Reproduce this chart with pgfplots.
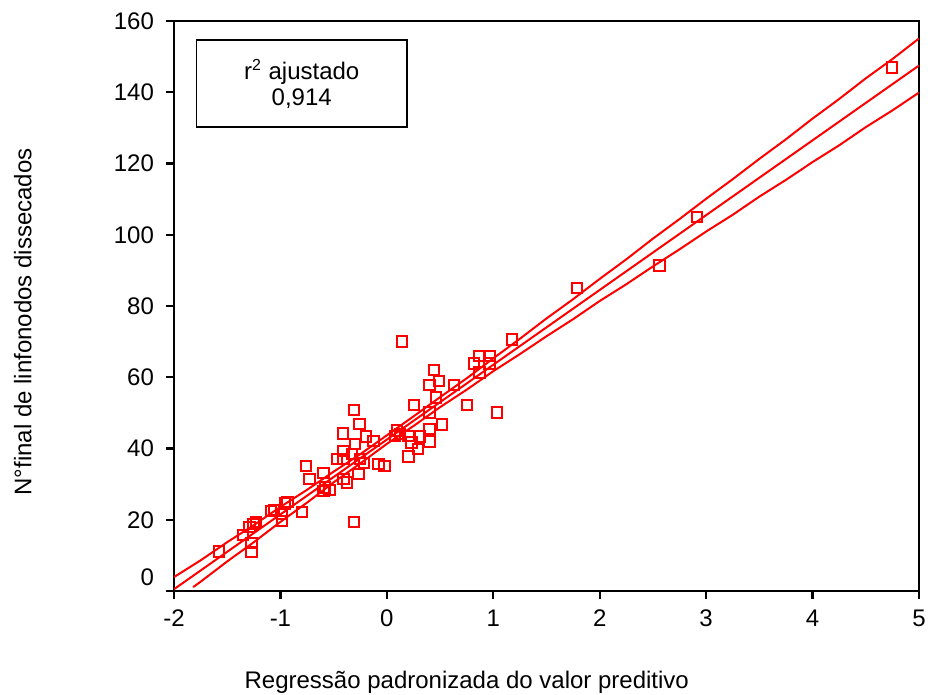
\documentclass[border=0pt]{standalone}
\usepackage{fontspec}
\setmainfont{Liberation Sans}
\usepackage{pgfplots}
\pgfplotsset{compat=1.18}
\definecolor{spssred}{RGB}{255,0,0}

\begin{document}
\begin{tikzpicture}
\begin{axis}[
    scale only axis,
    width=372.5pt, height=285pt,
    xmin=-2, xmax=5, ymin=0, ymax=160,
    xtick={-2,-1,0,1,2,3,4,5},
    xticklabels={-2,-1,0,1,2,3,4,5},
    ytick={20,40,60,80,100,120,140,160},
    yticklabels={20,40,60,80,100,120,140,160},
    extra y ticks={0}, extra y tick labels={0},
    extra y tick style={yticklabel style={yshift=7pt}},
    yticklabel style={xshift=-2.5pt},
    xticklabel style={yshift=-2pt},
    xtick pos=lower, ytick pos=left,
    tick align=outside, major tick length=4pt,
    tick style={black, line width=1.2pt},
    axis line style={black, line width=1.2pt},
    font=\fontsize{12}{14}\selectfont,
    xlabel={Regressão padronizada do valor preditivo},
    ylabel={N°final de linfonodos dissecados},
    xlabel style={at={(axis description cs:0.393,-0.161)}, anchor=center},
    ylabel style={at={(axis description cs:-0.203,0.472)}, anchor=center},
]
% observed points
\addplot[only marks, mark=square, mark size=2.6pt, spssred, line width=1pt] coordinates {
 (4.745,147.0) (2.913,105.0) (2.561,91.4) (1.785,85.1) (1.177,70.6)
 (0.140,70.0) (0.870,66.0) (0.963,66.0) (0.820,63.9) (0.963,63.9)
 (0.870,61.3) (0.441,62.0) (0.491,59.0) (0.400,57.8) (0.632,57.8)
 (0.462,54.3) (0.253,52.2) (0.751,52.2) (1.033,50.1) (0.400,50.1)
 (0.400,45.5) (0.516,46.7) (0.400,42.0) (0.093,45.0) (0.124,44.0)
 (0.077,43.5) (0.202,43.5) (0.312,43.4) (0.233,41.7) (0.290,39.8)
 (0.202,37.8) (-0.080,35.6) (-0.023,35.1) (-0.308,50.8) (-0.258,46.8)
 (-0.414,44.2) (-0.195,43.4) (-0.299,41.2) (-0.127,42.1) (-0.409,39.3)
 (-0.409,37.0) (-0.252,37.0) (-0.214,35.9) (-0.471,37.0) (-0.268,32.8)
 (-0.377,30.5) (-0.409,31.5) (-0.330,38.5) (-0.759,35.1) (-0.728,31.4)
 (-0.597,33.1) (-0.581,29.1) (-0.540,28.4) (-0.597,28.1) (-0.308,19.3)
 (-0.800,22.1) (-0.957,24.6) (-0.935,25.0) (-0.988,21.6) (-0.988,19.7)
 (-1.091,22.5) (-1.060,22.8) (-1.228,19.4) (-1.254,18.8) (-1.292,17.9)
 (-1.349,15.8) (-1.270,13.5) (-1.270,10.9) (-1.577,11.1)
};
% fitted line
\addplot[spssred, line width=1pt] coordinates {(-2,0.5) (5,147.5)};
% upper confidence band
\addplot[spssred, line width=1pt] coordinates {
 (-2,3.9) (-1.75,8.6) (-1.5,13.7) (-1.25,18.5) (-1,23.6) (-0.75,28.4)
 (-0.5,33.5) (-0.25,38.4) (0,43.7) (0.25,49.0) (0.5,54.4) (0.75,59.7)
 (1,65.3) (1.25,70.8) (1.5,76.5) (1.75,81.9) (2,87.6) (2.25,93.1)
 (2.5,98.9) (2.75,104.4) (3,110.1) (3.25,115.6) (3.5,121.3) (3.75,126.8)
 (4,132.6) (4.25,138.1) (4.5,143.9) (4.75,149.3) (5,155.1)
};
% lower confidence band
\addplot[spssred, line width=1pt] coordinates {
 (-1.82,1.1) (-1.75,2.6) (-1.5,8.3) (-1.25,13.7) (-1,19.4) (-0.75,24.8)
 (-0.5,30.5) (-0.25,35.8) (0,41.3) (0.25,46.3) (0.5,51.6) (0.75,56.5)
 (1,61.7) (1.25,66.5) (1.5,71.5) (1.75,76.3) (2,81.4) (2.25,86.1)
 (2.5,91.1) (2.75,95.9) (3,100.9) (3.25,105.6) (3.5,110.7) (3.75,115.4)
 (4,120.4) (4.25,125.1) (4.5,130.2) (4.75,134.9) (5,139.9)
};
\draw[black, line width=0.8pt] (axis cs:-1.787,154.6) rectangle (axis cs:0.187,130.2);
\node[align=center, font=\fontsize{12}{13}\selectfont] at (axis cs:-0.80,142.4)
 {r\textsuperscript{2} ajustado\\0,914};
\end{axis}
\pgfresetboundingbox
\path (-87pt,-52pt) rectangle (377pt,295.5pt);
\end{tikzpicture}
\end{document}
